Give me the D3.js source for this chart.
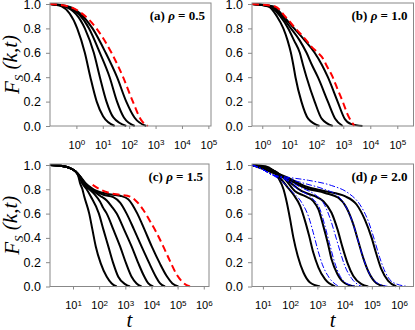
<!DOCTYPE html>
<html lang="en">
<head>
  <meta charset="UTF-8" />
  <title>Fs(k,t) panels</title>
  <script src="https://d3js.org/d3.v7.min.js"></script>
  <style>
    body { margin: 0; background: #fff; }
    svg { display: block; font-family: "Liberation Serif", "Times New Roman", serif; }
  </style>
</head>
<body>
  <div id="chart"></div>
  <script>
    // every curve is a list of [log10 t, Fs(k,t)] pairs
    var panelNames = ['(a)', '(b)', '(c)', '(d)'];
    var rhoValues = ['0.5', '1.0', '1.5', '2.0'];
    var yTicks = [0, 0.2, 0.4, 0.6, 0.8, 1.0];
    var xTickExps = [[0, 1, 2, 3, 4, 5], [0, 1, 2, 3, 4, 5], [1, 2, 3, 4, 5, 6], [1, 2, 3, 4, 5, 6]];
    var xRanges = [[-1, 5.1], [-0.38, 5.6], [0.12, 6.2], [0.6, 6.53]];

    var aBlack = [
      [[-1, 1], [-0.56, 0.98], [0.03, 0.8], [0.32, 0.6], [0.53, 0.4], [0.77, 0.2], [1.01, 0.08], [1.45, 0]],
      [[-1, 1], [-0.43, 0.98], [0.32, 0.8], [0.66, 0.6], [0.89, 0.4], [1.14, 0.2], [1.4, 0.07], [1.89, 0]],
      [[-1, 1], [-0.37, 0.98], [0.48, 0.8], [0.89, 0.6], [1.26, 0.4], [1.54, 0.2], [1.8, 0.07], [2.21, 0]],
      [[-1, 1], [-0.31, 0.98], [0.61, 0.8], [1.11, 0.6], [1.54, 0.4], [1.89, 0.2], [2.2, 0.07], [2.65, 0]]
    ];
    var aRed = [[-1, 1], [-0.31, 0.98], [0.76, 0.8], [1.33, 0.6], [1.77, 0.4], [2.14, 0.2], [2.45, 0.05], [2.71, 0]];

    var bBlack = [
      [[-0.38, 1], [0.23, 0.98], [0.54, 0.9], [0.78, 0.8], [0.94, 0.7], [1.06, 0.6], [1.15, 0.5], [1.23, 0.4], [1.45, 0.2], [1.7, 0.06], [2.12, 0]],
      [[-0.38, 1], [0.29, 0.98], [0.66, 0.9], [0.96, 0.8], [1.18, 0.7], [1.39, 0.6], [1.51, 0.5], [1.64, 0.4], [1.94, 0.2], [2.2, 0.06], [2.61, 0]],
      [[-0.38, 1], [0.35, 0.98], [0.72, 0.9], [1.06, 0.8], [1.39, 0.7], [1.64, 0.6], [1.84, 0.5], [2.06, 0.4], [2.43, 0.2], [2.7, 0.06], [2.98, 0]],
      [[-0.38, 1], [0.42, 0.98], [0.78, 0.9], [1.18, 0.8], [1.58, 0.7], [1.94, 0.6], [2.21, 0.5], [2.43, 0.4], [2.79, 0.2], [3.05, 0.06], [3.3, 0.015], [3.71, 0]]
    ];
    var bRed = [[-0.38, 1], [0.48, 0.98], [0.84, 0.9], [1.23, 0.8], [1.64, 0.7], [1.82, 0.65], [2.06, 0.6], [2.26, 0.55], [2.37, 0.5], [2.61, 0.4], [2.79, 0.3], [2.98, 0.2], [3.15, 0.1], [3.41, 0]];

    var cBlack = [
      [[0.12, 1], [0.63, 0.99], [1.08, 0.95], [1.2, 0.91], [1.27, 0.85], [1.36, 0.8], [1.43, 0.74], [1.62, 0.6], [1.74, 0.47], [1.87, 0.33], [2.06, 0.19], [2.29, 0.08], [2.48, 0.025], [2.67, 0]],
      [[0.12, 1], [0.63, 0.99], [1.08, 0.95], [1.24, 0.9], [1.35, 0.85], [1.52, 0.8], [1.68, 0.74], [1.99, 0.6], [2.16, 0.47], [2.35, 0.33], [2.54, 0.19], [2.73, 0.08], [2.99, 0.02], [3.18, 0]],
      [[0.12, 1], [0.63, 0.99], [1.08, 0.95], [1.26, 0.9], [1.38, 0.85], [1.62, 0.8], [1.84, 0.755], [2.03, 0.7], [2.16, 0.645], [2.29, 0.6], [2.54, 0.47], [2.8, 0.33], [3.03, 0.19], [3.24, 0.08], [3.43, 0.025], [3.62, 0]],
      [[0.12, 1], [0.63, 0.99], [1.08, 0.95], [1.28, 0.9], [1.42, 0.85], [1.69, 0.8], [2.03, 0.747], [2.29, 0.708], [2.48, 0.658], [2.67, 0.6], [2.95, 0.47], [3.24, 0.33], [3.5, 0.19], [3.73, 0.08], [3.88, 0.025], [4.07, 0]],
      [[0.12, 1], [0.63, 0.99], [1.08, 0.95], [1.29, 0.9], [1.45, 0.85], [1.74, 0.8], [2.16, 0.755], [2.54, 0.735], [2.8, 0.69], [3.05, 0.6], [3.33, 0.47], [3.62, 0.33], [3.92, 0.19], [4.17, 0.08], [4.33, 0.025], [4.52, 0]],
      [[0.12, 1], [0.63, 0.99], [1.08, 0.95], [1.3, 0.9], [1.48, 0.85], [1.78, 0.8], [2.29, 0.763], [2.8, 0.747], [3.11, 0.719], [3.46, 0.6], [3.73, 0.47], [4.01, 0.33], [4.32, 0.19], [4.6, 0.08], [4.8, 0.025], [5.03, 0]]
    ];
    var cRed = [[1.75, 0.837], [2.03, 0.8], [2.41, 0.769], [2.8, 0.755], [3.18, 0.74], [3.43, 0.7], [3.69, 0.63], [3.94, 0.54], [4.2, 0.44], [4.45, 0.33], [4.73, 0.2], [4.96, 0.1], [5.22, 0.03], [5.47, 0]];

    var dBlack = [
      [[0.6, 1], [1.09, 0.989], [1.33, 0.962], [1.57, 0.893], [1.76, 0.798], [1.88, 0.689], [2.0, 0.552], [2.12, 0.402], [2.28, 0.251], [2.49, 0.115], [2.73, 0.033], [3.1, 0]],
      [[0.6, 1], [1.33, 0.962], [1.63, 0.893], [1.88, 0.825], [2.12, 0.757], [2.37, 0.661], [2.55, 0.538], [2.7, 0.415], [2.85, 0.279], [3.04, 0.156], [3.28, 0.06], [3.65, 0]],
      [[0.6, 1], [1.45, 0.948], [1.82, 0.88], [2.18, 0.784], [2.55, 0.743], [2.85, 0.702], [3.04, 0.634], [3.22, 0.497], [3.38, 0.361], [3.52, 0.224], [3.74, 0.101], [4.01, 0.027], [4.38, 0]],
      [[0.6, 1], [1.45, 0.948], [1.94, 0.866], [2.43, 0.784], [2.91, 0.743], [3.22, 0.702], [3.52, 0.607], [3.74, 0.47], [3.91, 0.333], [4.1, 0.197], [4.32, 0.087], [4.62, 0.019], [4.87, 0]],
      [[0.6, 1], [1.94, 0.88], [2.55, 0.811], [3.28, 0.77], [3.77, 0.73], [4.07, 0.648], [4.32, 0.511], [4.5, 0.374], [4.68, 0.238], [4.89, 0.115], [5.17, 0.027], [5.48, 0]],
      [[0.6, 1], [1.94, 0.893], [2.55, 0.825], [3.28, 0.784], [4.01, 0.743], [4.44, 0.675], [4.74, 0.552], [4.99, 0.402], [5.17, 0.265], [5.35, 0.142], [5.6, 0.046], [5.9, 0]]
    ];
    var dBlue = [
      [[0.6, 1], [0.96, 0.967], [1.33, 0.921], [1.7, 0.866], [2.06, 0.784], [2.43, 0.689], [2.67, 0.579], [2.85, 0.443], [3.01, 0.306], [3.18, 0.183], [3.43, 0.074], [3.79, 0]],
      [[0.6, 1], [0.96, 0.967], [1.33, 0.921], [1.82, 0.88], [2.3, 0.797], [2.79, 0.73], [3.1, 0.634], [3.28, 0.497], [3.44, 0.361], [3.6, 0.224], [3.8, 0.101], [4.13, 0.019], [4.5, 0]],
      [[0.6, 1], [0.96, 0.967], [1.33, 0.921], [1.82, 0.885], [2.43, 0.811], [2.91, 0.757], [3.22, 0.689], [3.46, 0.566], [3.65, 0.429], [3.83, 0.292], [4.01, 0.169], [4.26, 0.066], [4.62, 0]],
      [[0.6, 1], [0.96, 0.967], [1.33, 0.921], [1.82, 0.893], [2.55, 0.847], [3.28, 0.798], [3.77, 0.743], [4.07, 0.648], [4.32, 0.511], [4.5, 0.374], [4.68, 0.238], [4.89, 0.115], [5.17, 0.033], [5.6, 0]],
      [[0.6, 1], [0.96, 0.967], [1.33, 0.921], [1.82, 0.902], [2.67, 0.874], [3.52, 0.831], [4.13, 0.77], [4.56, 0.675], [4.87, 0.538], [5.09, 0.388], [5.29, 0.238], [5.5, 0.115], [5.78, 0.033], [6.33, 0]]
    ];

    var panels = [
      { left: 50, right: 211, top: 3, bottom: 126, black: aBlack, dashed: [aRed], dashColor: '#ff0000' },
      { left: 252, right: 413.5, top: 3, bottom: 126, black: bBlack, dashed: [bRed], dashColor: '#ff0000' },
      { left: 50, right: 209, top: 164, bottom: 286.5, black: cBlack, dashed: [cRed], dashColor: '#ff0000' },
      { left: 252, right: 413.5, top: 164, bottom: 286.5, black: dBlack, dashed: dBlue, dashColor: '#0000ff' }
    ];

    var svg = d3.select('#chart').append('svg')
      .attr('width', 415)
      .attr('height', 330);

    panels.forEach(function (p, i) {
      var xScale = d3.scaleLog()
        .domain([Math.pow(10, xRanges[i][0]), Math.pow(10, xRanges[i][1])])
        .range([p.left, p.right]);
      var yScale = d3.scaleLinear()
        .domain([0, 1])
        .range([p.bottom, p.top + 1]);

      var line = d3.line()
        .x(d => xScale(Math.pow(10, d[0])))
        .y(d => yScale(d[1]))
        .curve(d3.curveMonotoneX);

      svg.append('clipPath').attr('id', 'clip' + i)
        .append('rect')
        .attr('x', p.left).attr('y', p.top - 1)
        .attr('width', p.right - p.left).attr('height', p.bottom - p.top + 2);

      // x axis
      var xAxis = svg.append('g')
        .attr('transform', 'translate(0,' + p.bottom + ')')
        .call(d3.axisBottom(xScale)
          .tickValues(xTickExps[i].map(e => Math.pow(10, e)))
          .tickSize(3)
          .tickPadding(12)
          .tickFormat(''));
      xAxis.select('.domain').remove();
      xAxis.selectAll('.tick line').attr('stroke', '#888');
      xAxis.selectAll('.tick text')
        .attr('fill', '#000')
        .style('font-size', '11px')
        .each(function (d) {
          var t = d3.select(this);
          t.text('10');
          t.append('tspan')
            .attr('dy', '-0.45em')
            .style('font-size', '8px')
            .text(Math.round(Math.log10(d)));
        });

      // y axis
      var yAxis = svg.append('g')
        .attr('transform', 'translate(' + p.left + ',0)')
        .call(d3.axisLeft(yScale)
          .tickValues(yTicks)
          .tickSize(4)
          .tickPadding(5)
          .tickFormat(d3.format('.1f')));
      yAxis.select('.domain').remove();
      yAxis.selectAll('.tick line').attr('stroke', '#888');
      yAxis.selectAll('.tick text').attr('fill', '#000').style('font-size', '12.5px');

      var g = svg.append('g').attr('clip-path', 'url(#clip' + i + ')');

      g.selectAll('.black')
        .data(p.black)
        .enter().append('path')
        .attr('d', line)
        .attr('fill', 'none')
        .attr('stroke', '#000')
        .attr('stroke-width', 2);

      g.selectAll('.dashed')
        .data(p.dashed)
        .enter().append('path')
        .attr('d', line)
        .attr('fill', 'none')
        .attr('stroke', p.dashColor)
        .attr('stroke-width', i == 3 ? 1 : 2)
        .attr('stroke-dasharray', i == 3 ? '6,2,1.5,2' : '7,4');

      // frame
      svg.append('rect')
        .attr('x', p.left).attr('y', p.top)
        .attr('width', p.right - p.left).attr('height', p.bottom - p.top)
        .attr('fill', 'none')
        .attr('stroke', '#888')
        .attr('stroke-width', 1);

      // panel label
      var lab = svg.append('text')
        .attr('x', p.right - 6)
        .attr('y', p.top + 17)
        .attr('text-anchor', 'end')
        .style('font-size', '13px')
        .style('font-weight', 'bold')
        .text(panelNames[i] + ' ');
      lab.append('tspan').style('font-style', 'italic').text('\u03c1');
      lab.append('tspan').text(' = ' + rhoValues[i]);

      // axis titles
      if (i % 2 == 0) {
        var yt = svg.append('text')
          .attr('transform', 'translate(19,' + ((p.top + p.bottom) / 2) + ') rotate(-90)')
          .attr('text-anchor', 'middle')
          .style('font-size', '21px')
          .style('font-style', 'italic')
          .text('F');
        yt.append('tspan').attr('dy', '0.3em').style('font-size', '13px').text('S');
        yt.append('tspan').attr('dy', '-0.3em').text(' (k,t)');
      }
      if (i >= 2) {
        svg.append('text')
          .attr('x', (p.left + p.right) / 2)
          .attr('y', 327)
          .attr('text-anchor', 'middle')
          .style('font-size', '21px')
          .style('font-style', 'italic')
          .text('t');
      }
    });
  </script>
</body>
</html>
